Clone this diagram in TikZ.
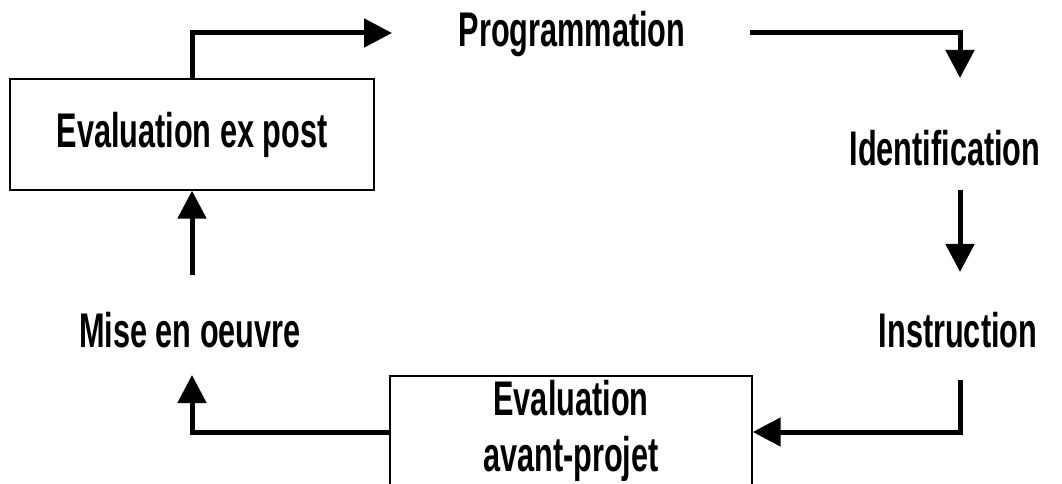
\documentclass[tikz,border=0pt]{standalone}
\usepackage{fontspec}
\setmainfont{Liberation Sans}[FakeStretch=0.63,BoldFont={* Bold}]
\usetikzlibrary{arrows.meta}
\begin{document}
\begin{tikzpicture}[x=0.75pt,y=-0.75pt,
  lbl/.style={inner sep=0pt,font=\fontsize{36.5}{42}\selectfont\bfseries,align=center},
  boxnode/.style={draw,line width=1pt,inner sep=0pt},
  flow/.style={line width=3.75pt,-{Triangle[length=21pt,width=21pt]}}]
\clip (0,0) rectangle (1062,484);
\node[boxnode,minimum width=273pt,minimum height=83.25pt,lbl] (evp) at (192,134.5) {Evaluation ex post};
\node[boxnode,minimum width=271.5pt,minimum height=84pt,lbl] (eap) at (571,432) {\raisebox{-5pt}{\begin{tabular}{@{}c@{}}Evaluation\\avant-projet\end{tabular}}};
\node[lbl] (prog) at (572,34) {Programmation};
\node[lbl] (ident) at (945,148) {Identification};
\node[lbl] (instr) at (958,330) {Instruction};
\node[lbl] (mise) at (190,330) {Mise en oeuvre};
\coordinate (t1) at (392,33);
\coordinate (s2) at (750,33);
\coordinate (t2) at (960,78);
\coordinate (s3) at (960,190);
\coordinate (t3) at (960,272);
\coordinate (s4) at (960,380);
\coordinate (t5) at (192,375);
\coordinate (s6) at (192,275);
\draw[flow] (evp.north) |- (t1);
\draw[flow] (s2) -| (t2);
\draw[flow] (s3) -- (t3);
\draw[flow] (s4) |- (eap.east);
\draw[flow] (eap.west) -| (t5);
\draw[flow] (s6) -- (evp.south);
\end{tikzpicture}
\end{document}
